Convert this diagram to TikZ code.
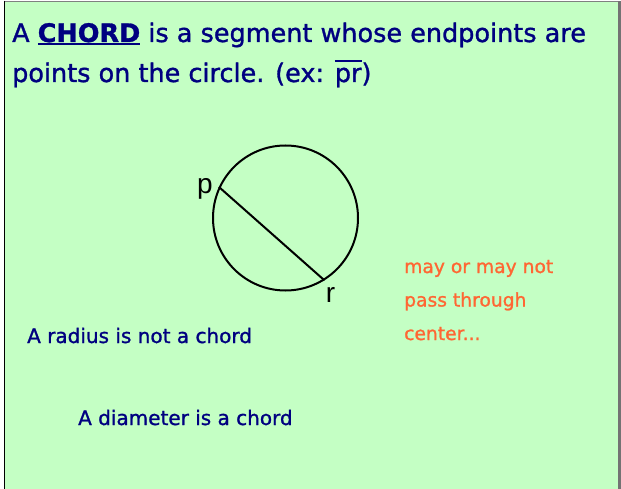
\documentclass[tikz,border=0pt]{standalone}
\usepackage{fontspec}
\newfontfamily\slidefont[FakeBold=1.2]{DejaVu Sans}
\newfontfamily\pointfont{Liberation Sans}
\definecolor{slidegreen}{RGB}{196,255,196}
\definecolor{slidenavy}{RGB}{0,0,128}
\definecolor{slideorange}{RGB}{255,102,51}
\newcommand{\thickul}[1]{\setbox0\hbox{#1}\rlap{\rule[-3.5pt]{\wd0}{2pt}}\box0}
\newcommand{\thickol}[1]{\setbox0\hbox{#1}\rlap{\rule[20pt]{\wd0}{1.6pt}}\box0}

\begin{document}
\begin{tikzpicture}[x=1pt,y=-1pt,
    slidetext/.style={anchor=base west, inner sep=0pt, text=slidenavy},
    titletext/.style={slidetext, font=\slidefont\fontsize{25.5}{30}\selectfont},
    notetext/.style={slidetext, font=\slidefont\fontsize{20}{24}\selectfont},
    orangetext/.style={slidetext, text=slideorange, font=\slidefont\fontsize{18.7}{22}\selectfont},
    ptlabel/.style={inner sep=0pt, font=\pointfont\fontsize{28}{32}\selectfont}]
  \useasboundingbox (0,0) rectangle (621,489);
  \fill[slidegreen] (4.5,1.5) rectangle (619.5,489);
  \draw[gray, line width=1.5pt] (4.5,1.5) -- (619.5,1.5);
  \draw[gray!90!black, line width=3pt] (619.5,0.75) -- (619.5,489);
  \draw[black, line width=1.5pt] (4.5,0.75) -- (4.5,489);

  \node[titletext] (line1) at (12,42) {A \textbf{\thickul{CHORD}} is a segment whose endpoints are};
  \node[titletext] (line2) at (12,82) {points on the circle. (ex: \thickol{pr})};

  % circle with the chord pr
  \def\R{72.5}
  \node[circle, draw, line width=2pt, minimum size=2*\R pt, inner sep=0pt] (circ) at (285.5,218) {};
  \coordinate (p) at (circ.155.7);
  \coordinate (r) at (circ.-58);
  \draw[line width=2pt] (p) -- (r);
  \node[ptlabel] (plabel) at (205,189) {p};
  \node[ptlabel] (rlabel) at (330.5,295) {r};

  \foreach \txt [count=\i] in {may or may not, pass through, center.{}.{}.}
  {
    \node[orangetext] (note\i) at (404,{273+33.5*(\i-1)}) {\txt};
  }
  \node[notetext] (radius) at (27,343) {A radius is not a chord};
  \node[notetext] (diameter) at (78,425) {A diameter is a chord};
\end{tikzpicture}
\end{document}
